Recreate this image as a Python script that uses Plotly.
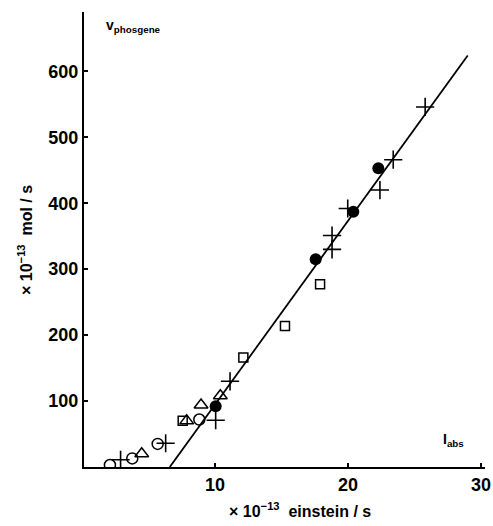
import plotly.graph_objects as go

# data (x: I_abs in 1e-13 einstein/s, y: v_phosgene in 1e-13 mol/s)
filled_x = [10.05, 17.57, 20.4, 22.28]
filled_y = [92, 315, 387, 453]

plus_x = [25.8, 23.4, 22.4, 19.98, 18.8, 18.8, 11.13, 10.05, 6.29, 2.9]
plus_y = [546, 466, 420, 392, 351, 330, 130, 71, 36, 11]

open_x = [2.1, 3.78, 5.69, 8.82]
open_y = [3, 13, 35, 72]

tri_x = [4.49, 7.87, 8.95, 10.4]
tri_y = [20, 70, 94, 108]

sq_x = [7.57, 12.13, 15.26, 17.9]
sq_y = [70, 166, 214, 277]

fit_x = [6.6, 29.0]
fit_y = [0, 624]

x_ticks = [10, 20, 30]
y_ticks = [100, 200, 300, 400, 500, 600]

FONT = "Liberation Sans Narrow, Liberation Sans, Arial"
TFONT = "Liberation Sans, Arial"

W, H = 493, 526
PL, PT, PR, PB = 84, 12, 485, 467  # plot area in window pixels

fig = go.Figure()
fig.add_trace(go.Scatter(x=fit_x, y=fit_y, mode="lines",
                         line=dict(color="black", width=1.8), showlegend=False))
fig.add_trace(go.Scatter(x=filled_x, y=filled_y, mode="markers",
                         marker=dict(symbol="circle", size=12, color="black"), showlegend=False))
fig.add_trace(go.Scatter(x=plus_x, y=plus_y, mode="markers",
                         marker=dict(symbol="cross-thin-open", size=13, color="black",
                                     line=dict(color="black", width=1.6)), showlegend=False))
fig.add_trace(go.Scatter(x=open_x, y=open_y, mode="markers",
                         marker=dict(symbol="circle-open", size=11, color="black",
                                     line=dict(color="black", width=1.5)), showlegend=False))
fig.add_trace(go.Scatter(x=tri_x, y=tri_y, mode="markers",
                         marker=dict(symbol="triangle-up-open", size=12, color="black",
                                     line=dict(color="black", width=1.5)), showlegend=False))
fig.add_trace(go.Scatter(x=sq_x, y=sq_y, mode="markers",
                         marker=dict(symbol="square-open", size=9, color="black",
                                     line=dict(color="black", width=1.5)), showlegend=False))

axis_common = dict(showgrid=False, zeroline=False, showline=True, linecolor="black", linewidth=2,
                   ticks="inside", ticklen=4, tickwidth=2, tickcolor="black", automargin=False,
                   tickfont=dict(family=FONT, size=18, color="black", weight="bold"))
fig.update_xaxes(range=[0.15, 30.3], tickvals=x_ticks, ticktext=[str(v) for v in x_ticks],
                 **axis_common)
fig.update_yaxes(range=[0, 690], tickvals=y_ticks, ticktext=[str(v) for v in y_ticks],
                 **axis_common)

pw, ph = PR - PL, PB - PT


def px(xw):
    return (xw - PL) / pw


def py(yw):
    return (PB - yw) / ph


ann_font = dict(family=TFONT, size=16, color="black", weight="bold")
small_font = dict(family=TFONT, size=14, color="black", weight="bold")
fig.update_layout(
    width=W, height=H,
    margin=dict(l=PL, r=W - PR, t=PT, b=H - PB),
    paper_bgcolor="white", plot_bgcolor="white",
    annotations=[
        dict(text="v<sub>phosgene</sub>", x=px(104), y=py(26), xref="paper", yref="paper",
             xanchor="left", yanchor="middle", showarrow=False, font=small_font),
        dict(text="I<sub>abs</sub>", x=px(441), y=py(440), xref="paper", yref="paper",
             xanchor="left", yanchor="middle", showarrow=False, font=small_font),
        dict(text="× 10<sup>−13</sup>  einstein / s", x=px(300), y=py(510),
             xref="paper", yref="paper", xanchor="center", yanchor="middle",
             showarrow=False, font=ann_font),
        dict(text="× 10<sup>−13</sup>  mol / s", x=px(25), y=py(240),
             xref="paper", yref="paper", xanchor="center", yanchor="middle",
             textangle=-90, showarrow=False, font=ann_font),
    ],
)

fig.write_html("out.html", config={"displayModeBar": False},
               post_script="document.body.style.margin='0px';document.body.style.overflow='hidden';")
